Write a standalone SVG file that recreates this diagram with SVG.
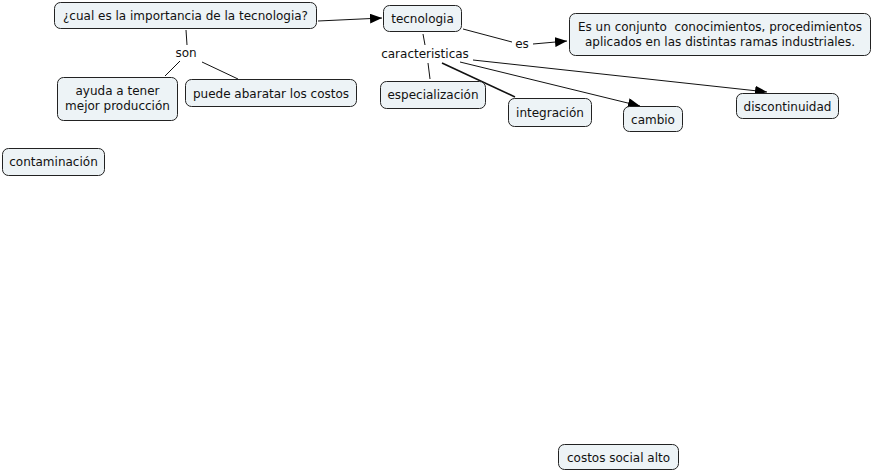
<svg xmlns="http://www.w3.org/2000/svg" width="872" height="471" viewBox="0 0 872 471">
<style>
.n rect{fill:#edf3f6;stroke:#222;stroke-width:1}
text{font-family:"DejaVu Sans",Verdana,sans-serif;font-size:12px;fill:#111;text-anchor:middle}
.c line{stroke:#111;stroke-width:1}
</style>
<defs>
<marker id="a" markerWidth="12" markerHeight="10" refX="12" refY="5" orient="auto" markerUnits="userSpaceOnUse">
<path d="M0,0 L12,5 L0,10 Z" fill="#000"/>
</marker>
</defs>
<rect width="872" height="471" fill="#fff"/>
<g class="c">
<line x1="318" y1="21" x2="382" y2="18" marker-end="url(#a)"/>
<line x1="186" y1="30" x2="187" y2="45"/>
<line x1="180" y1="61" x2="165" y2="76"/>
<line x1="202" y1="62" x2="238" y2="79"/>
<line x1="463" y1="29" x2="512" y2="42"/>
<line x1="533" y1="44" x2="567" y2="41" marker-end="url(#a)"/>
<line x1="423" y1="34" x2="425" y2="45"/>
<line x1="428" y1="63" x2="430" y2="79"/>
<line x1="442" y1="63" x2="515" y2="97" style="stroke-width:1.6"/>
<line x1="460" y1="62" x2="640" y2="106" marker-end="url(#a)"/>
<line x1="473" y1="60" x2="767" y2="92" marker-end="url(#a)"/>
<text x="186" y="57">son</text>
<text x="522" y="48">es</text>
<text x="425" y="58">caracteristicas</text>
</g>
<g id="q" class="n"><rect x="54.5" y="2.5" width="262" height="26" rx="6"/><text x="185.5" y="19.5">¿cual es la importancia de la tecnologia?</text></g>
<g id="tec" class="n"><rect x="383.5" y="5.5" width="78" height="26" rx="6"/><text x="422.5" y="22.5">tecnologia</text></g>
<g id="def" class="n"><rect x="569.5" y="13.5" width="301" height="42" rx="6"/><text x="720" y="30.5" style="white-space:pre" xml:space="preserve">Es un conjunto  conocimientos, procedimientos</text><text x="720" y="45.5">aplicados en las distintas ramas industriales.</text></g>
<g id="esp" class="n"><rect x="380.5" y="81.5" width="105" height="27" rx="6"/><text x="433" y="99">especialización</text></g>
<g id="int" class="n"><rect x="508.5" y="98.5" width="83" height="28" rx="6"/><text x="550" y="117">integración</text></g>
<g id="cam" class="n"><rect x="623.5" y="106.5" width="59" height="25" rx="6"/><text x="653" y="123.5">cambio</text></g>
<g id="dis" class="n"><rect x="736.5" y="93.5" width="102" height="25" rx="6"/><text x="787.5" y="110.5">discontinuidad</text></g>
<g id="ayu" class="n"><rect x="57.5" y="77.5" width="120" height="43" rx="6"/><text x="117.5" y="95">ayuda a tener</text><text x="117.5" y="110">mejor producción</text></g>
<g id="pue" class="n"><rect x="185.5" y="79.5" width="171" height="27" rx="6"/><text x="271" y="97.5">puede abaratar los costos</text></g>
<g id="con" class="n"><rect x="2.5" y="148.5" width="102" height="27" rx="6"/><text x="53.5" y="166">contaminación</text></g>
<g id="cos" class="n"><rect x="558.5" y="444.5" width="120" height="25" rx="6"/><text x="618.5" y="461.5">costos social alto</text></g>
</svg>
